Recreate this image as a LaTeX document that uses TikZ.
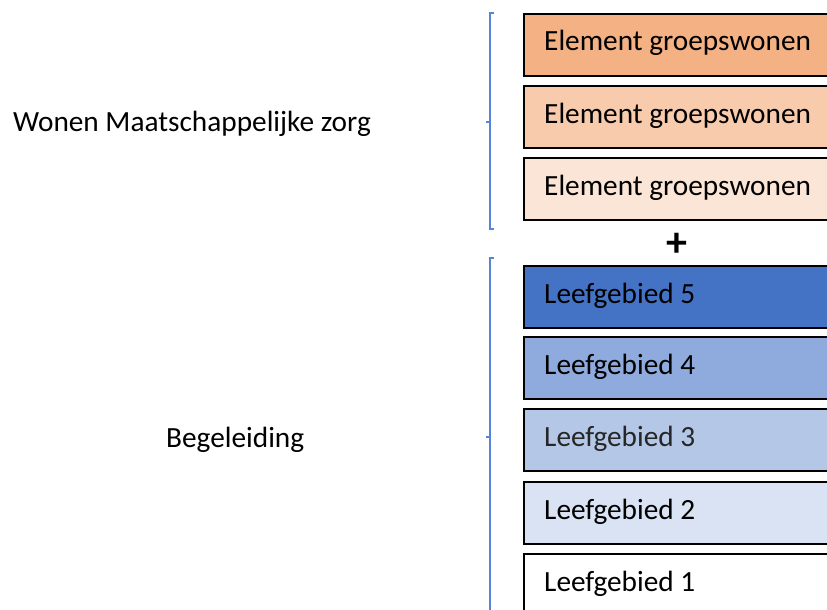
\documentclass[tikz,border=0pt]{standalone}
\usepackage{fontspec}
\setmainfont{Carlito}
\definecolor{or1}{HTML}{F4B183}
\definecolor{or2}{HTML}{F8CBAD}
\definecolor{or3}{HTML}{FBE5D6}
\definecolor{bl5}{HTML}{4472C4}
\definecolor{bl4}{HTML}{8FAADC}
\definecolor{bl3}{HTML}{B4C7E7}
\definecolor{bl2}{HTML}{DAE3F3}
\definecolor{brc}{HTML}{5584D8}
\begin{document}
\begin{tikzpicture}[x=1pt,y=-1pt,
  box/.style={draw=black,line width=2.2pt,minimum width=340pt,minimum height=62pt,anchor=north west,inner sep=0pt},
  lbl/.style={anchor=base west,inner sep=0pt,font=\fontsize{29.3}{33}\selectfont},
  brace/.style={draw=brc,line width=1.5pt}]
\useasboundingbox (0,0) rectangle (827,610);
\clip (0,0) rectangle (827,610);
% top boxes
\node[box,fill=or1] (e1) at (523,13) {};
\node[box,fill=or2] (e2) at (523,85) {};
\node[box,fill=or3] (e3) at (523,157) {};
\node[lbl] (t1) at (544,51) {Element groepswonen};
\node[lbl] (t2) at (544,123) {Element groepswonen};
\node[lbl] (t3) at (544,195) {Element groepswonen};
% plus
\node[font=\fontsize{42}{42}\selectfont\bfseries,inner sep=0pt] (plus) at (677,245) {+};
% bottom boxes
\node[box,fill=bl5] (l5) at (523,265) {};
\node[box,fill=bl4] (l4) at (523,336) {};
\node[box,fill=bl3] (l3) at (523,408) {};
\node[box,fill=bl2] (l2) at (523,481) {};
\node[box,fill=white] (l1) at (523,553) {};
\node[lbl] (s5) at (544,303) {Leefgebied 5};
\node[lbl] (s4) at (544,374) {Leefgebied 4};
\node[lbl,text=black!85] (s3) at (544,446) {Leefgebied 3};
\node[lbl] (s2) at (544,519) {Leefgebied 2};
\node[lbl] (s1) at (544,591) {Leefgebied 1};
% braces
\draw[brace] (494,13) -- (490,13) -- (490,229) -- (494,229);
\draw[brace] (486,122) -- (490,122);
\draw[brace] (494,258) -- (490,258) -- (490,620);
\draw[brace] (486,437) -- (490,437);
% side labels
\node[lbl] (wmz) at (13,131) {Wonen Maatschappelijke zorg};
\node[lbl] (beg) at (166,447) {Begeleiding};
\end{tikzpicture}
\end{document}
